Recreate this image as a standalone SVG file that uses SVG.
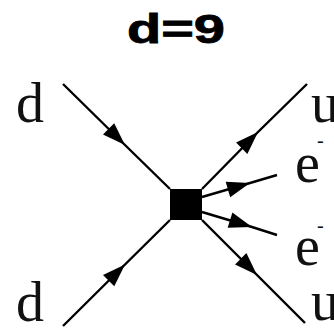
<svg xmlns="http://www.w3.org/2000/svg" width="334" height="328" viewBox="0 0 334 328">
<style>
.ln{fill:none;stroke:#000;stroke-width:2.4;marker-mid:url(#ah)}
.lbl{font-family:"Liberation Serif","Times New Roman",serif;font-size:56px;fill:#111}
.sup{font-size:20px}
.title{font-family:"Liberation Sans",Arial,sans-serif;font-weight:bold;font-size:40px;fill:#000;stroke:#000;stroke-width:0.8}
</style>
<defs>
<marker id="ah" markerUnits="userSpaceOnUse" markerWidth="30" markerHeight="20" viewBox="-24 -10 30 20" refX="0" refY="0" orient="auto">
<path d="M0,0 L-23,-8 L-23,8 Z" fill="#000"/>
</marker>
</defs>
<rect width="334" height="328" fill="#fff"/>
<text class="title" x="127" y="43" textLength="98" lengthAdjust="spacingAndGlyphs">d=9</text>
<g id="connectors">
<path class="ln" d="M63,84 L125,145 L170,189"/>
<path class="ln" d="M63,326 L125,264.5 L170,220"/>
<path class="ln" d="M202,189 L258,132 L307,84"/>
<path class="ln" d="M202,220 L257,275 L305,323"/>
<path class="ln" d="M202,197 L250,183 L277,175"/>
<path class="ln" d="M202,212 L252,227 L277,235"/>
</g>
<g id="vertex"><rect x="170" y="189" width="32" height="31" fill="#000"/></g>
<g id="d_in_top"><text class="lbl" x="16" y="122">d</text></g>
<g id="d_in_bottom"><text class="lbl" x="16" y="321">d</text></g>
<g id="u_out_top"><text class="lbl" x="311" y="122">u</text></g>
<g id="u_out_bottom"><text class="lbl" x="311" y="320">u</text></g>
<g id="e_out_top"><text class="lbl" x="295" y="182">e<tspan class="sup" x="317" y="147">-</tspan></text></g>
<g id="e_out_bottom"><text class="lbl" x="295" y="265">e<tspan class="sup" x="317" y="232">-</tspan></text></g>
</svg>
